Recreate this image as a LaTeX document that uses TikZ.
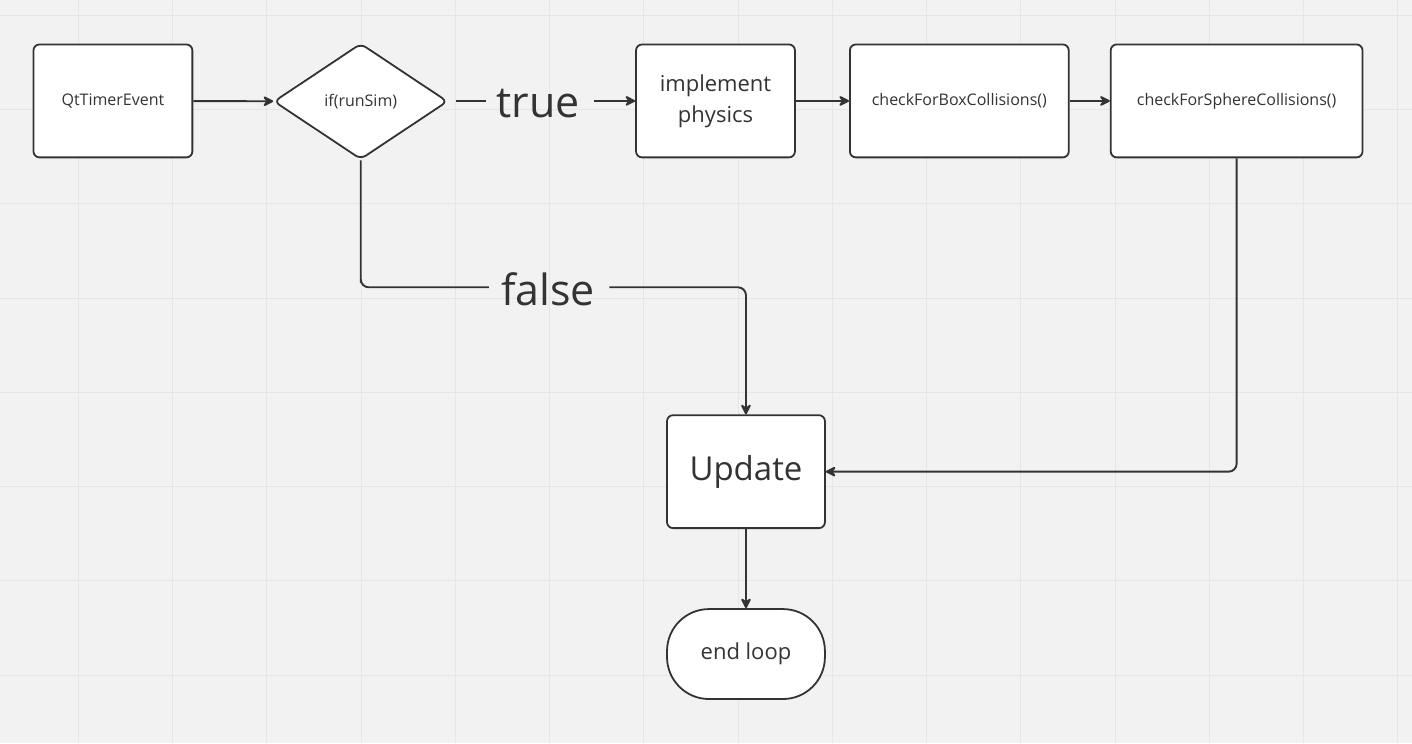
\documentclass[tikz,border=0pt]{standalone}
\usepackage{fontspec}
\setmainfont{Open Sans}
\usepackage{xcolor}
\usepackage{tikz}
\usetikzlibrary{shapes.geometric,arrows.meta,positioning}
\definecolor{ink}{HTML}{333333}
\definecolor{board}{HTML}{F2F2F2}
\definecolor{gridline}{HTML}{E6E6E6}
\tikzstyle{block}=[draw=ink,fill=white,line width=1.8pt,rounded corners=6pt,text=ink,align=center,minimum height=113pt]
\tikzstyle{flow}=[draw=ink,line width=1.9pt,rounded corners=8pt]

\begin{document}
\begin{tikzpicture}[x=1pt,y=-1pt]
					\tikzstyle{decision}=[diamond,draw=ink,fill=white,line width=1.8pt,rounded corners=6pt,text=ink,minimum width=174pt,minimum height=116pt,inner sep=0pt]
					\tikzstyle{terminal}=[block,rounded corners=42pt,minimum height=90pt]
					\tikzstyle{branch}=[text=ink,font=\fontsize{43}{50}\selectfont,inner sep=0pt]
					\tikzstyle{arrow}=[flow,-{Stealth[length=13pt,width=13pt,inset=5pt,round]}]
					\fill[board] (0,0) rectangle (1412,743);
					\foreach \gx in {78,172.3,...,1412} \draw[gridline,line width=1pt] (\gx,0) -- (\gx,743);
					\foreach \gy in {15,109.3,...,743} \draw[gridline,line width=1pt] (0,\gy) -- (1412,\gy);
					\useasboundingbox (0,0) rectangle (1412,743);
					\node [block,minimum width=159pt,font=\fontsize{16}{19}\selectfont] (timer) at (112.5,100.5) {QtTimerEvent};
					\node [decision,font=\fontsize{16}{19}\selectfont] (runsim) at (360.5,101) {if(runSim)};
					\node [branch] (truelbl) at (538,103) {true};
					\node [block,minimum width=159pt,font=\fontsize{22}{31}\selectfont] (physics) at (715.5,100.5) {implement\\physics};
					\node [block,minimum width=219pt,font=\fontsize{16}{19}\selectfont] (boxcoll) at (959.5,100.5) {checkForBoxCollisions()};
					\node [block,minimum width=252pt,font=\fontsize{16}{19}\selectfont] (spherecoll) at (1237,100.5) {checkForSphereCollisions()};
					\node [branch] (falselbl) at (548,289) {false};
					\node [block,minimum width=158pt,font=\fontsize{33}{40}\selectfont] (update) at (746,471.5) {Update};
					\node [terminal,minimum width=158pt,font=\fontsize{22}{26}\selectfont] (endloop) at (746,654) {end loop};
					\draw [arrow] (timer) -- (runsim);
					\draw [flow,shorten <=7pt,shorten >=10pt] (runsim.east) -- (runsim.east -| truelbl.west);
					\draw [arrow,shorten <=14pt] (truelbl.east |- physics.west) -- (physics.west);
					\draw [arrow] (physics) -- (boxcoll);
					\draw [arrow] (boxcoll) -- (spherecoll);
					\draw [flow,shorten >=12pt] (runsim.south) |- (runsim.south |- 0,287) -- (falselbl.west |- 0,287);
					\draw [arrow,shorten <=14pt] (falselbl.east |- 0,287) -| (update.north);
					\draw [arrow] (spherecoll.south) |- (update.east);
					\draw [arrow] (update) -- (endloop);
					\end{tikzpicture}
\end{document}
